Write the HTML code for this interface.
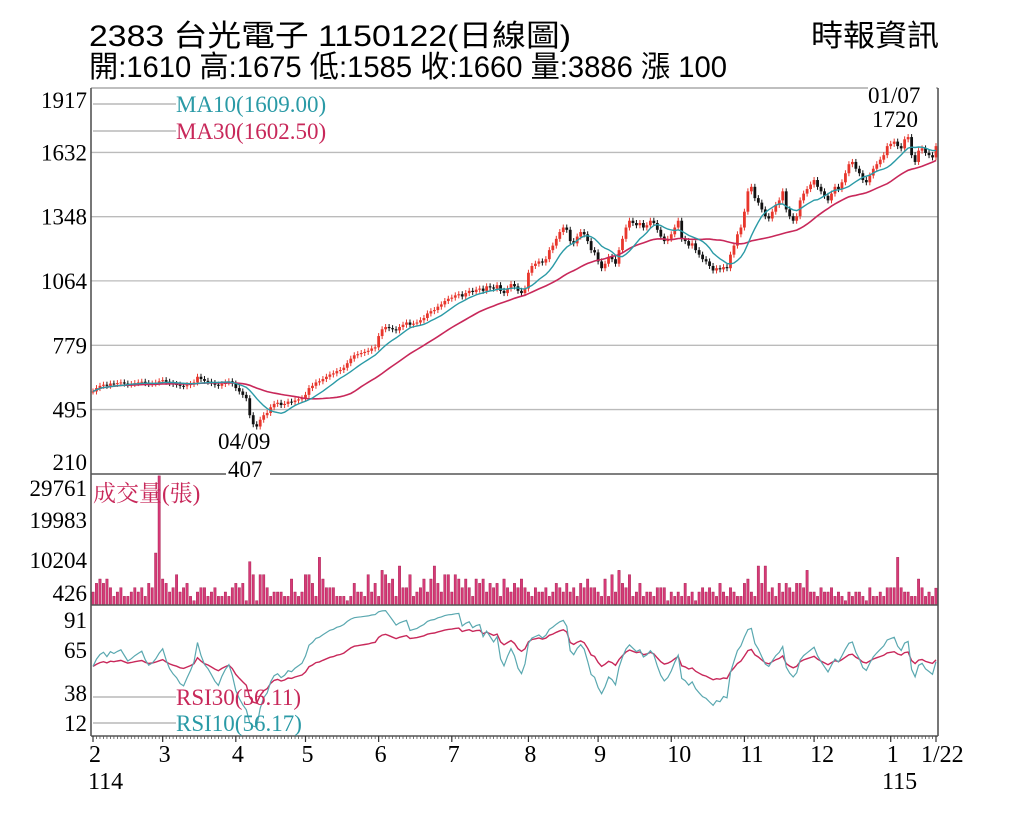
<!DOCTYPE html>
<html><head><meta charset="utf-8"><style>
html,body{margin:0;padding:0;background:#fff;width:1024px;height:819px;overflow:hidden}
svg{display:block}
text{font-family:"Liberation Serif","Noto Serif CJK TC",serif}
.h{font-family:"Liberation Sans","Noto Sans CJK TC",sans-serif}
</style></head><body>
<svg id="chart" width="1024" height="819" viewBox="0 0 1024 819" xmlns="http://www.w3.org/2000/svg">
<text class="h" x="89" y="46" font-size="30" textLength="482" lengthAdjust="spacingAndGlyphs">2383  台光電子 1150122(日線圖)</text>
<text class="h" x="89" y="77" font-size="30" textLength="638" lengthAdjust="spacingAndGlyphs">開:1610 高:1675 低:1585 收:1660 量:3886 漲 100</text>
<text class="h" x="811" y="46" font-size="30" textLength="128" lengthAdjust="spacingAndGlyphs">時報資訊</text>
<g id="grid"></g><g id="marks"></g><g id="axes"></g>
</svg>
<script>
const monthLabels=["2","3","4","5","6","7","8","9","10","11","12","1","1/22"];
const monthStartIdx=[0,20,41,61,82,103,125,145,166,187,207,229,242];
const priceTicks=[1917,1632,1348,1064,779,495,210];
const volTicks=[29761,19983,10204,426];
const rsiTicks=[91,65,38,12];
const closes=[575,590,600,605,600,610,608,612,615,610,605,608,612,615,618,612,608,610,614,620,
625,618,612,608,605,600,598,603,608,615,640,630,622,618,612,605,600,608,615,620,610,
590,575,560,545,470,430,420,450,470,480,505,520,525,515,520,530,528,535,540,545,
560,590,600,615,620,630,640,650,655,665,670,680,700,720,735,740,745,750,755,765,770,
820,850,860,855,850,845,860,870,880,870,875,880,890,900,920,930,935,950,960,975,985,
990,1000,1005,995,1010,1020,1015,1025,1030,1020,1040,1035,1030,1045,1020,1010,1030,1050,1040,1020,1010,1030,
1100,1130,1140,1150,1145,1160,1200,1220,1250,1280,1300,1290,1240,1230,1260,1280,1270,1240,1200,1190,
1150,1120,1140,1170,1160,1140,1200,1250,1300,1330,1320,1310,1320,1300,1310,1330,1320,1290,1260,1240,1250,
1270,1300,1330,1250,1240,1220,1230,1200,1180,1160,1150,1130,1110,1120,1115,1125,1120,1180,1220,1270,1300,
1370,1460,1480,1430,1410,1380,1350,1340,1370,1400,1420,1460,1380,1350,1330,1350,1420,1450,1470,1490,
1510,1480,1460,1440,1420,1450,1480,1470,1500,1540,1580,1590,1560,1540,1510,1500,1530,1560,1580,1600,1620,1660,
1670,1680,1660,1650,1690,1700,1620,1590,1640,1650,1630,1620,1610,1660];
const volumes=[3,5,6,5,6,4,2,3,4,2,2,3,4,3,4,2,5,4,12,29.8,
6,5,3,4,7,3,4,5,2,1,3,4,4,2,3,4,2,2,3,2,4,
5,4,5,1,10,7,1,7,7,4,2,3,3,3,2,2,6,3,2,3,
7,7,5,2,11,6,4,4,4,2,2,2,1,2,5,3,3,2,7,3,5,
2,8,7,5,6,2,9,4,4,7,2,3,4,6,3,6,9,5,3,7,7,
3,7,6,4,6,4,2,6,5,6,3,5,4,5,2,6,4,3,5,4,6,4,
3,2,4,3,3,4,2,3,5,4,3,5,3,4,2,5,4,6,4,4,
3,2,6,2,7,3,8,5,4,7,2,3,5,2,3,3,2,4,4,4,1,
3,2,3,2,5,2,3,1,3,4,3,4,3,2,5,3,2,4,3,2,2,
5,6,3,2,9,5,9,3,4,2,5,3,5,4,3,5,5,4,8,3,
3,2,4,3,3,4,2,3,2,1,3,2,3,3,2,1,4,2,2,3,2,4,
4,4,11,4,3,3,2,2,6,4,2,3,2,3.9];

const NS="http://www.w3.org/2000/svg";
const L=91,R=938,X0=93,X1=936;
const n=closes.length;
const xs=i=>X0+i*(X1-X0)/(n-1);
const yP=p=>88+(1917-p)*(474-88)/(1917-210);
const yV=v=>605-v*1000*130/30000;
const yR=r=>619+(91-r)*(723-619)/(91-12);
function mk(tag,attrs,parent,txt){const e=document.createElementNS(NS,tag);for(const k in attrs)e.setAttribute(k,attrs[k]);if(txt!==undefined)e.textContent=txt;parent.appendChild(e);return e;}
const grid=document.getElementById('grid'),marks=document.getElementById('marks'),axes=document.getElementById('axes');

priceTicks.forEach(p=>{const y=yP(p);
 if(p!==210&&p!==1917){const g=mk('line',{x1:L,x2:R,y1:y,y2:y,stroke:'#bbb','stroke-width':1.3},grid);
 
 }
 const t=mk('text',{x:87,y:(p===210?y-4:p===1917?y+20:y+8),'font-size':23,'text-anchor':'end'},axes,String(p));
 
 
});
mk('line',{x1:L,x2:R,y1:88,y2:88,stroke:'#999','stroke-width':1.3},grid);
const vLabY=[496,528,568,601];
volTicks.forEach((v,k)=>{const t=mk('text',{x:87,y:vLabY[k],'font-size':23,'text-anchor':'end'},axes,String(v));
 
 });
const rLabY=[628,658,701,731];
rsiTicks.forEach((r,k)=>{const t=mk('text',{x:87,y:rLabY[k],'font-size':23,'text-anchor':'end'},axes,String(r));
 
 });

function ma(len){return closes.map((c,i)=>{const s=closes.slice(Math.max(0,i-len+1),i+1);return s.reduce((a,b)=>a+b,0)/s.length;});}
const ma10=ma(10),ma30=ma(30);
function poly(arr,yf,color,name,w){const pts=arr.map((v,i)=>xs(i).toFixed(1)+','+yf(v).toFixed(1)).join(' ');
 const p=mk('polyline',{points:pts,fill:'none',stroke:color,'stroke-width':w||1.4},marks);
 
 }
closes.forEach((c,i)=>{const o=i?closes[i-1]:c;const up=c>=o;const x=xs(i);
 const hi=Math.max(o,c),lo=Math.min(o,c);
 const col=up?'#e8362c':'#111';
 const w=mk('line',{x1:x,x2:x,y1:yP(hi)-3,y2:yP(lo)+3,stroke:col,'stroke-width':1},marks);
 
 
 const b=mk('rect',{x:x-1.4,y:yP(hi),width:2.8,height:Math.max(1,yP(lo)-yP(hi)),fill:col},marks);
 
 
});
poly(ma30,yP,'#c8285a','ma30-line',1.6);
poly(ma10,yP,'#2a9aa6','ma10-line',1.4);
volumes.forEach((v,i)=>{const x=xs(i);
 const r=mk('rect',{x:x-1.2,y:yV(v),width:2.4,height:605-yV(v),fill:'#d63a78',stroke:'#a01848','stroke-width':0.4},marks);
 
 });
function rsi(len){const out=[];let ag=6,al=5;
 for(let i=0;i<n;i++){if(i===0){out.push(55);continue;}
  const d=closes[i]-closes[i-1];const g=Math.max(d,0),l=Math.max(-d,0);
  ag=(ag*(len-1)+g)/len;al=(al*(len-1)+l)/len;
  out.push(al===0?95:100-100/(1+ag/al));}
 return out;}
poly(rsi(30),yR,'#c8285a','rsi30-line',1.4);
poly(rsi(10),yR,'#5aa8b0','rsi10-line',1.2);

[[L,88,L,736],[R,88,R,736],[L,474,R,474],[L,605,R,605],[L,736,R,736]].forEach(a=>{
 const f=mk('line',{x1:a[0],y1:a[1],x2:a[2],y2:a[3],stroke:'#555','stroke-width':1.6},axes);
 
 });
for(let i=0;i<n;i++){mk('line',{x1:xs(i),x2:xs(i),y1:736,y2:739,stroke:'#555','stroke-width':0.8},axes);}
monthLabels.forEach((m,k)=>{const x=xs(monthStartIdx[k]);
 mk('line',{x1:x,x2:x,y1:736,y2:742,stroke:'#333','stroke-width':1.2},axes);
 const t=mk('text',{x:(k===12?x-15:x-4),y:762,'font-size':24},axes,m);
 
 });
mk('text',{x:88,y:789,'font-size':24,},axes,'114');
mk('text',{x:882,y:789,'font-size':24,},axes,'115');
mk('line',{x1:93,x2:176,y1:104,y2:104,stroke:'#aaa','stroke-width':1.2},axes);
mk('text',{x:176,y:112,'font-size':23,fill:'#2a9aa6',},axes,'MA10(1609.00)');
mk('line',{x1:93,x2:176,y1:131,y2:131,stroke:'#aaa','stroke-width':1.2},axes);
mk('text',{x:176,y:139,'font-size':23,fill:'#c8285a',},axes,'MA30(1602.50)');
mk('text',{x:93,y:501,'font-size':23,fill:'#c8285a',},axes,'成交量(張)');
mk('line',{x1:93,x2:176,y1:697,y2:697,stroke:'#aaa','stroke-width':1.2},axes);
mk('text',{x:176,y:705,'font-size':23,fill:'#c8285a',},axes,'RSI30(56.11)');
mk('line',{x1:93,x2:176,y1:723,y2:723,stroke:'#aaa','stroke-width':1.2},axes);
mk('text',{x:176,y:731,'font-size':23,fill:'#2a9aa6',},axes,'RSI10(56.17)');
mk('rect',{x:226,y:462,width:44,height:18,fill:'#fff'},axes);
mk('text',{x:218,y:449,'font-size':23,},axes,'04/09');
mk('text',{x:228,y:477,'font-size':23,},axes,'407');
mk('rect',{x:868,y:84,width:68,height:10,fill:'#fff'},axes);
mk('text',{x:868,y:103,'font-size':23,},axes,'01/07');
mk('text',{x:872,y:127,'font-size':23,},axes,'1720');
</script>
</body></html>
